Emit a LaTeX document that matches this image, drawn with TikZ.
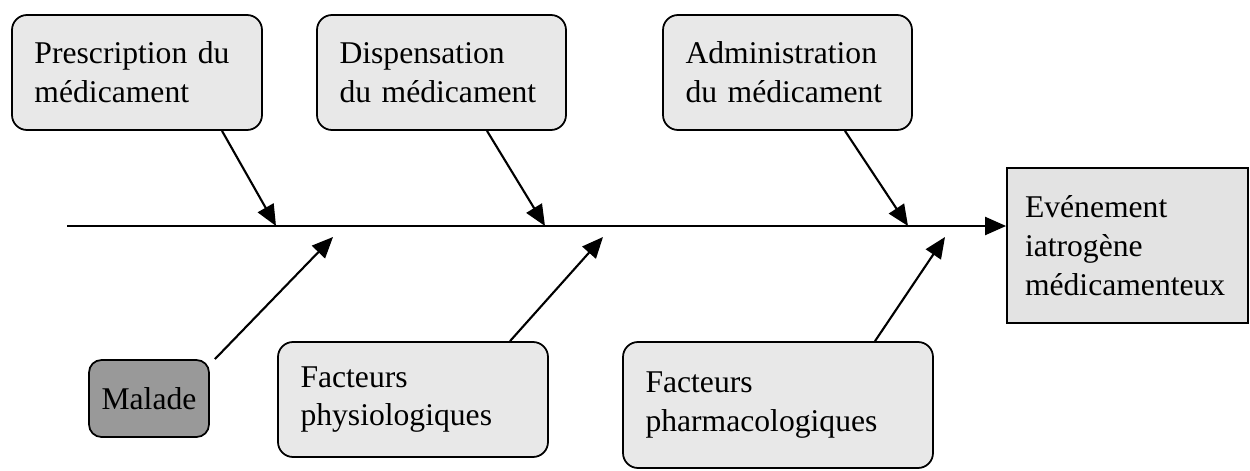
\documentclass[tikz,border=0pt]{standalone}
\usepackage{fontspec}
\setmainfont{Liberation Serif}
\usetikzlibrary{arrows.meta}
\begin{document}
\begin{tikzpicture}[
    cause/.style={draw=black, line width=1pt, rounded corners=0.3cm, fill=black!9,
        text width=#1, align=left, inner xsep=0.45cm, minimum height=2.3cm,
        font=\fontsize{18}{22}\selectfont},
    effet/.style={draw=black, line width=1pt, fill=black!11, text width=4.1cm,
        align=left, inner xsep=0.36cm, minimum height=3.1cm,
        font=\fontsize{18}{22}\selectfont},
    arete/.style={line width=1.2pt, -{Triangle[length=0.42cm,width=0.36cm]}},
    ]
    \useasboundingbox (0,0) rectangle (25,9.4);
    \node[cause=4.1cm] (presc) at (2.74,7.95) {Prescription du\\médicament};
    \node[cause=4.08cm] (disp) at (8.83,7.95) {Dispensation\\du médicament};
    \node[cause=4.08cm] (admin) at (15.75,7.95) {Administration\\du médicament};
    \node[cause=2.0cm, fill=black!40, inner xsep=0.2cm, minimum height=1.54cm, rounded corners=0.25cm, align=center] (malade) at (2.98,1.43) {Malade};
    \node[cause=4.5cm] (physio) at (8.26,1.41) {Facteurs\\physiologiques};
    \node[cause=5.3cm, minimum height=2.52cm] (pharma) at (15.56,1.3) {Facteurs\\pharmacologiques};
    \node[effet] (eim) at (22.55,4.49) {Evénement\\iatrogène\\médicamenteux};
    \coordinate (queue) at (1.34,4.88);
    \coordinate (t1) at (5.52,4.88);
    \coordinate (t2) at (10.9,4.88);
    \coordinate (t3) at (18.16,4.88);
    \coordinate (b1) at (6.66,4.66);
    \coordinate (b2) at (12.06,4.66);
    \coordinate (b3) at (18.9,4.66);
    \draw[arete] (queue) -- (queue -| eim.west);
    \draw[arete] ([xshift=1.7cm]presc.south) -- (t1);
    \draw[arete] ([xshift=0.91cm]disp.south) -- (t2);
    \draw[arete] ([xshift=1.15cm]admin.south) -- (t3);
    \draw[arete] ([xshift=0.1cm]malade.north east) -- (b1);
    \draw[arete] ([xshift=1.94cm]physio.north) -- (b2);
    \draw[arete] ([xshift=1.94cm]pharma.north) -- (b3);
\end{tikzpicture}
\end{document}
